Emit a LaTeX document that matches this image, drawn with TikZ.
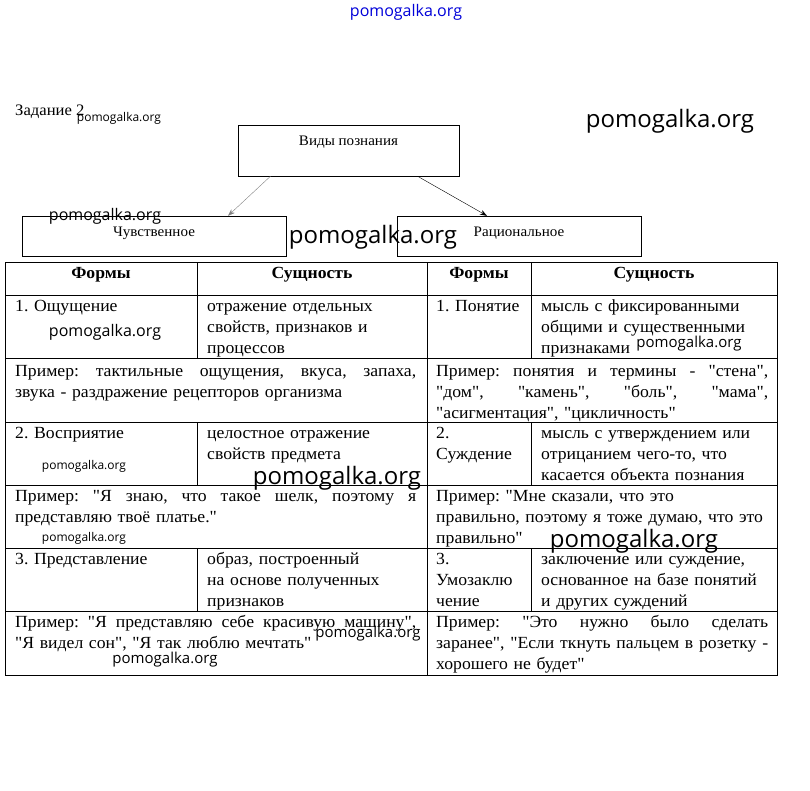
\documentclass[tikz,border=0pt]{standalone}
\usepackage{fontspec}
\setmainfont{Liberation Serif}[Ligatures=TeXOff,FakeStretch=1.04]
\newfontfamily\wmfont{Open Sans}
\usetikzlibrary{arrows.meta}
\newcommand{\cellfont}{\fontsize{17}{21}\selectfont\frenchspacing}
\newcommand{\just}[2]{\makebox[#1][s]{\spaceskip=0pt\relax #2}}

\begin{document}
\begin{tikzpicture}[x=1pt,y=-1pt,>={Stealth[length=7pt,width=5pt]},
    cell/.style={anchor=north west,inner sep=0pt,align=left,text width=#1,font=\cellfont,execute at begin node=\strut},
    head/.style={inner sep=0pt,font=\cellfont\bfseries},
    box/.style={draw,inner sep=0pt,text height=10pt,font=\fontsize{14.5}{16}\selectfont},
    wm/.style={inner sep=0pt,font=\wmfont\fontsize{#1}{#1}\selectfont}]
         \useasboundingbox (0,0) rectangle (810,790);
         \node (task) [anchor=west,inner sep=0pt,font=\fontsize{16}{16}\selectfont] at (15,112) {Задание 2};
         \node (vidy) [box,minimum width=221pt,minimum height=51pt,text depth=20pt] at (348.5,150.5) {Виды познания};
         \node (chuv) [box,minimum width=264pt,minimum height=40pt,text depth=10pt] at (154,236) {Чувственное};
         \node (rac)  [box,minimum width=244pt,minimum height=40pt,text depth=10pt] at (519,236) {Рациональное};
         \draw [->,gray] ([xshift=-78pt]vidy.south) -- ([xshift=74pt]chuv.north);
         \draw [->] ([xshift=69pt]vidy.south) -- ([xshift=-32pt]rac.north);
         % table grid
         \draw (5,262) rectangle (777,675);
         \foreach \y in {295,358,422,485,548,611} \draw (5,\y) -- (777,\y);
         \draw (427,262) -- (427,675);
         \foreach \a/\b in {262/358,422/485,548/611} {
           \draw (197,\a) -- (197,\b);
           \draw (531,\a) -- (531,\b);
         }
         \node (h1) [head] at (101,275) {Формы};
         \node (h2) [head] at (312,275) {Сущность};
         \node (h3) [head] at (479,275) {Формы};
         \node (h4) [head] at (654,275) {Сущность};
         \node (f1) [cell=180pt] at (15,297) {1. Ощущение};
         \node (s1) [cell=220pt] at (207,297) {отражение отдельных\\свойств, признаков и\\процессов};
         \node (f4) [cell=95pt]  at (436,297) {1. Понятие};
         \node (s4) [cell=235pt] at (541,297) {мысль с фиксированными\\общими и существенными\\признаками};
         \node (p1) [cell=401pt] at (15,362) {\just{401pt}{Пример: тактильные ощущения, вкуса, запаха,}\\звука - раздражение рецепторов организма};
         \node (p4) [cell=332pt] at (436,362) {\just{332pt}{Пример: понятия и термины - "стена",}\\\just{332pt}{"дом", "камень", "боль", "мама",}\\"асигментация", "цикличность"};
         \node (f2) [cell=180pt] at (15,424) {2. Восприятие};
         \node (s2) [cell=220pt] at (207,424) {целостное отражение\\свойств предмета};
         \node (f5) [cell=95pt]  at (436,424) {2.\\Суждение};
         \node (s5) [cell=235pt] at (541,424) {мысль с утверждением или\\отрицанием чего-то, что\\касается объекта познания};
         \node (p2) [cell=401pt] at (15,487) {\just{401pt}{Пример: "Я знаю, что такое шелк, поэтому я}\\представляю твоё платье."};
         \node (p5) [cell=345pt] at (436,487) {Пример: "Мне сказали, что это\\правильно, поэтому я тоже думаю, что это\\правильно"};
         \node (f3) [cell=180pt] at (15,550) {3. Представление};
         \node (s3) [cell=220pt] at (207,550) {образ, построенный\\на основе полученных\\признаков};
         \node (f6) [cell=95pt]  at (436,550) {3.\\Умозаклю\\чение};
         \node (s6) [cell=235pt] at (541,550) {заключение или суждение,\\основанное на базе понятий\\и других суждений};
         \node (p3) [cell=401pt] at (15,613) {\just{401pt}{Пример: "Я представляю себе красивую машину",}\\"Я видел сон", "Я так люблю мечтать"};
         \node (p6) [cell=332pt] at (436,613) {\just{332pt}{Пример: "Это нужно было сделать}\\\just{332pt}{заранее", "Если ткнуть пальцем в розетку -}\\хорошего не будет"};
         % watermarks
         \node (wm0)  [wm=16,text=blue!85!black] at (406,12) {pomogalka.org};
         \node (wm1)  [wm=12] at (119,118) {pomogalka.org};
         \node (wm2)  [wm=24] at (670,121) {pomogalka.org};
         \node (wm3)  [wm=16] at (105,216) {pomogalka.org};
         \node (wm4)  [wm=24] at (373,237) {pomogalka.org};
         \node (wm5)  [wm=16] at (105,332) {pomogalka.org};
         \node (wm6)  [wm=15] at (689,344) {pomogalka.org};
         \node (wm7)  [wm=12] at (84,466) {pomogalka.org};
         \node (wm8)  [wm=24] at (337,478) {pomogalka.org};
         \node (wm9)  [wm=12] at (84,538) {pomogalka.org};
         \node (wm10) [wm=24] at (634,541) {pomogalka.org};
         \node (wm11) [wm=15] at (368,634) {pomogalka.org};
         \node (wm12) [wm=15] at (165,660) {pomogalka.org};
\end{tikzpicture}
\end{document}
